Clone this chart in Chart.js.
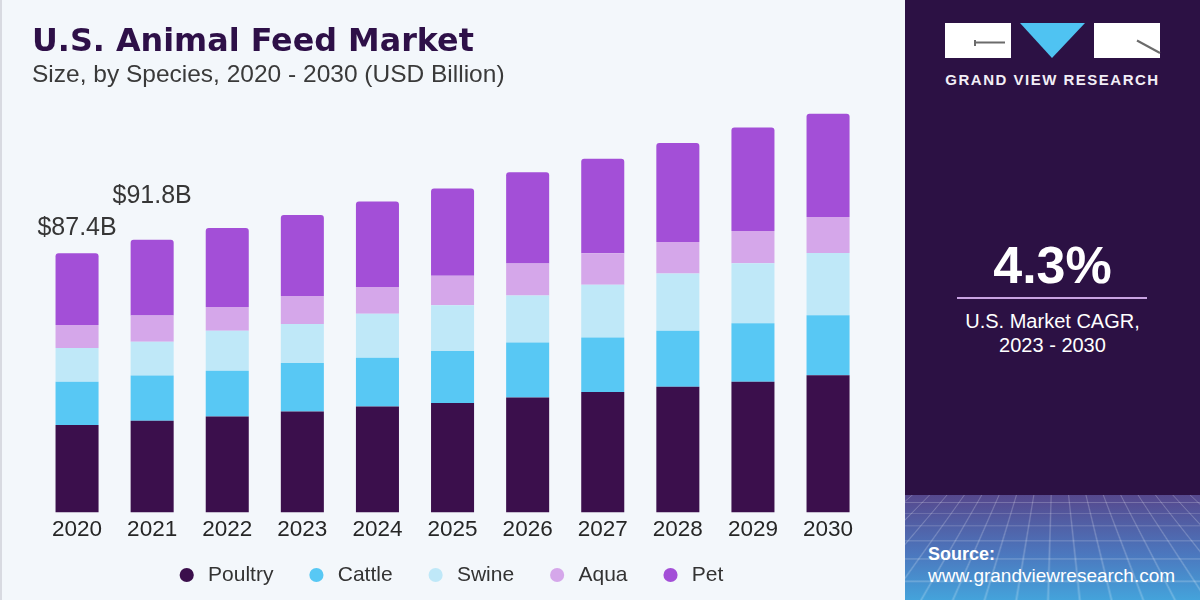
<!DOCTYPE html>
<html>
<head>
<meta charset="utf-8">
<title>U.S. Animal Feed Market</title>
<script src="https://cdn.jsdelivr.net/npm/chart.js@4.4.1/dist/chart.umd.min.js"></script>
<style>
body{margin:0;width:1200px;height:600px;overflow:hidden;position:relative;font-family:"Liberation Sans",Arial,sans-serif;background:#f3f7fb;}
#edge{position:absolute;left:0;top:0;width:2px;height:600px;background:#d8dae1;}
#chartBox{position:absolute;left:0;top:0;width:905px;height:600px;}
#title{position:absolute;left:32px;top:24px;font:bold 31.8px/31px "DejaVu Sans",sans-serif;color:#2e1048;white-space:nowrap;}
#subtitle{position:absolute;left:32px;top:62px;font:24.5px/24.5px "Liberation Sans",Arial,sans-serif;color:#3a3a3a;white-space:nowrap;}
#side{position:absolute;left:905px;top:0;width:295px;height:600px;background:#2c1144;color:#fff;text-align:center;}
#logo{position:absolute;left:40px;top:23px;}
#brand{position:absolute;left:0;width:295px;top:71px;font:bold 15px/18px "Liberation Sans",Arial,sans-serif;letter-spacing:1.5px;color:#f2eef6;}
#cagr{position:absolute;left:0;width:295px;top:239px;font:bold 52px/52px "Liberation Sans",Arial,sans-serif;}
#rule{position:absolute;left:52px;top:297px;width:190px;height:2px;background:#c9a3e2;}
#cagrText{position:absolute;left:0;width:295px;top:309px;font:20px/24px "Liberation Sans",Arial,sans-serif;}
#grid{position:absolute;left:0;top:495px;width:295px;height:105px;overflow:hidden;background:linear-gradient(#56488d,#4c76bd 55%,#44a3db);}
#plane{position:absolute;left:-350px;top:-10px;width:1000px;height:300px;transform:perspective(220px) rotateX(62deg);transform-origin:50% 0;
background-image:linear-gradient(rgba(255,255,255,.22) 1px,transparent 1px),linear-gradient(90deg,rgba(255,255,255,.22) 1px,transparent 1px);background-size:16px 16px;}
#source{position:absolute;left:23px;top:543px;text-align:left;font:19px/22px "Liberation Sans",Arial,sans-serif;color:#fff;}
#source b{font-size:18px;}
</style>
</head>
<body>
<div id="chartBox"><canvas id="chart"></canvas></div>
<div id="edge"></div>
<div id="title">U.S. Animal Feed Market</div>
<div id="subtitle">Size, by Species, 2020 - 2030 (USD Billion)</div>

<div id="side">
  <svg id="logo" width="216" height="36" viewBox="0 0 216 36">
    <rect x="0" y="0" width="66" height="35" fill="#fff"/>
    <path d="M30 19.5 H60 M30 17 V23" stroke="#6b6b6b" stroke-width="2" fill="none"/>
    <polygon points="75,0 140,0 107,35" fill="#4fc3f2"/>
    <rect x="149" y="0" width="66" height="35" fill="#fff"/>
    <path d="M192 17.5 L215 30" stroke="#6b6b6b" stroke-width="2" fill="none"/>
  </svg>
  <div id="brand">GRAND VIEW RESEARCH</div>
  <div id="cagr">4.3%</div>
  <div id="rule"></div>
  <div id="cagrText">U.S. Market CAGR,<br>2023 - 2030</div>
  <div id="grid"><div id="plane"></div></div>
  <div id="source"><b>Source:</b><br>www.grandviewresearch.com</div>
</div>

<script>
const years = ['2020','2021','2022','2023','2024','2025','2026','2027','2028','2029','2030'];
const poultry = [29.5,30.9,32.3,34.0,35.7,36.9,38.7,40.6,42.3,44.0,46.2];
const cattle = [14.5,15.2,15.4,16.3,16.4,17.5,18.5,18.3,18.9,19.7,20.2];
const swine = [11.4,11.4,13.5,13.2,14.8,15.4,15.9,17.8,19.3,20.2,21.0];
const aqua = [7.7,8.8,8.0,9.4,9.0,9.9,10.7,10.6,10.6,10.9,12.1];
const pet = [24.2,25.5,26.6,27.3,28.8,29.4,30.8,31.8,33.3,34.8,34.8];
const totalLabels = ['$87.4B','$91.8B'];

// how far above the bar top each total label sits
const labelLift = [18, 37];
// legend row is pulled up closer to the year labels
const legendPull = 17;

const totalLabelPlugin = {
  id: 'totalLabels',
  afterDatasetsDraw(chart) {
    const ctx = chart.ctx;
    const meta = chart.getDatasetMeta(chart.data.datasets.length - 1);
    ctx.save();
    ctx.font = '25px "Liberation Sans", Arial, sans-serif';
    ctx.fillStyle = '#363636';
    ctx.textAlign = 'center';
    ctx.textBaseline = 'alphabetic';
    totalLabels.forEach((t, i) => {
      const bar = meta.data[i];
      ctx.fillText(t, bar.x, bar.y - labelLift[i]);
    });
    ctx.restore();
  }
};

const legendShift = {
  id: 'legendShift',
  afterInit(chart) {
    const legend = chart.legend;
    const fit = legend.fit;
    legend.fit = function() {
      fit.call(this);
      this.height -= legendPull;
    };
  },
  afterLayout(chart) {
    // move only the top edge so the box still holds the whole row
    chart.legend.top -= legendPull;
    chart.legend.height += legendPull;
  }
};

function ds(label, data, color, top) {
  return {
    label: label,
    data: data,
    backgroundColor: color,
    borderWidth: 0,
    borderRadius: top ? {topLeft: 3, topRight: 3, bottomLeft: 0, bottomRight: 0} : 0,
    borderSkipped: false,
    barPercentage: 0.573,
    categoryPercentage: 1
  };
}

new Chart(document.getElementById('chart'), {
  type: 'bar',
  data: {
    labels: years,
    datasets: [
      ds('Poultry', poultry, '#3b0f4c'),
      ds('Cattle', cattle, '#58c8f4'),
      ds('Swine', swine, '#bfe8f8'),
      ds('Aqua', aqua, '#d5a7ea'),
      ds('Pet', pet, '#a34fd7', true)
    ]
  },
  options: {
    responsive: true,
    maintainAspectRatio: false,
    animation: false,
    layout: {padding: {top: 96.7, left: 39.5, right: 39.4, bottom: 4.5}},
    plugins: {
      tooltip: {enabled: false},
      legend: {
        position: 'bottom',
        labels: {
          usePointStyle: true,
          pointStyle: 'circle',
          boxWidth: 10,
          boxHeight: 10,
          padding: 38,
          color: '#333',
          font: {size: 21, family: '"Liberation Sans", Arial, sans-serif'},
          generateLabels(chart) {
            return Chart.defaults.plugins.legend.labels.generateLabels(chart).map(l => {
              l.text = ' ' + l.text;
              l.lineWidth = 0;
              return l;
            });
          }
        }
      }
    },
    scales: {
      x: {
        stacked: true,
        grid: {display: false, drawTicks: false},
        border: {display: false},
        ticks: {color: '#262626', padding: 4, font: {size: 22.5, family: '"Liberation Sans", Arial, sans-serif'}},
        afterFit(scale) { scale.height = 31; }
      },
      y: {
        stacked: true,
        display: false,
        min: 0,
        max: 140
      }
    }
  },
  plugins: [totalLabelPlugin, legendShift]
});
</script>
</body>
</html>
